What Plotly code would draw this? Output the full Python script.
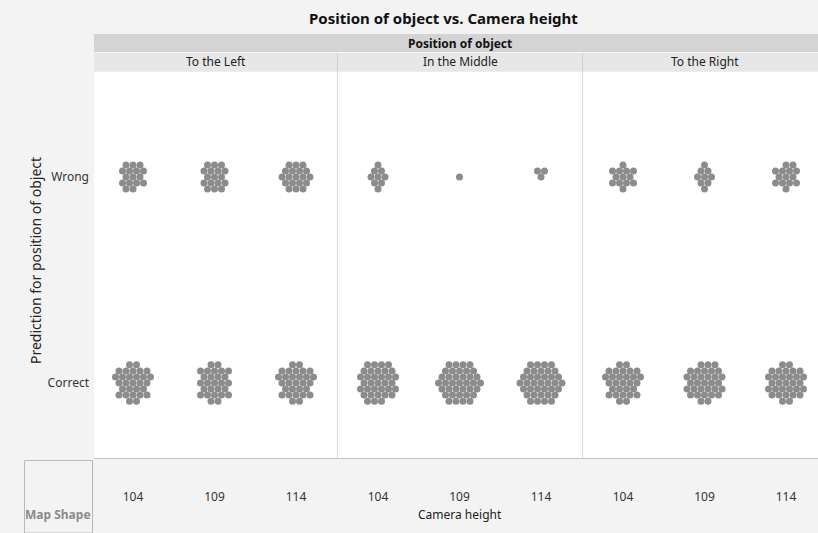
import math
import plotly.graph_objects as go

# ---- data: counts of observations per cell ----
positions = ["To the Left", "In the Middle", "To the Right"]
camera_heights = ["104", "109", "114"]
predictions = ["Correct", "Wrong"]
wrong_counts = [[16, 17, 19], [9, 1, 3], [13, 9, 14]]
correct_counts = [[29, 27, 29], [34, 37, 37], [29, 32, 31]]

W, H = 818, 533
FONT = "Noto Sans"
DOT = "#8c8c8c"

# pixel geometry of the facet grid
panel_edges = [(94, 337.5), (337.5, 582.5), (582.5, 818)]
first_center = 133.0
panel_step = 245.0
cat_step = 81.5            # px between camera-height categories
row_top, row_bottom = 72, 458
y_wrong_px, y_correct_px = 177, 383
y_unit = y_correct_px - y_wrong_px   # px per y unit
spacing = 7.0              # px between packed points


def px(x):
    return x / W


def py(y):
    return 1 - y / H


def hex_pack(n):
    """Offsets (in px) of n points packed on a hexagonal lattice around 0."""
    if n <= 0:
        return []
    pts = []
    r = int(math.sqrt(n)) + 3
    for j in range(-r, r + 1):
        for i in range(-r, r + 1):
            x = (i + 0.5 * (j % 2)) * spacing
            y = j * spacing * math.sqrt(3) / 2
            pts.append((x, y))
    pts.sort(key=lambda p: (round(p[0] ** 2 + (p[1] * 0.97) ** 2, 3),
                            math.atan2(-p[1], p[0]) % (2 * math.pi)))
    return pts[:n]


fig = go.Figure()
layout_axes = {}
for p, pos in enumerate(positions):
    c0 = first_center + panel_step * p
    L, R = panel_edges[p]
    xs, ys = [], []
    for row_val, counts in ((1, wrong_counts), (0, correct_counts)):
        for i, n in enumerate(counts[p]):
            for dx, dy in hex_pack(n):
                xs.append(i + dx / cat_step)
                ys.append(row_val - dy / y_unit)
    name = "x" if p == 0 else f"x{p + 1}"
    fig.add_trace(go.Scatter(
        x=xs, y=ys, mode="markers", xaxis=name, yaxis="y",
        marker=dict(size=7, color=DOT, line=dict(width=0)),
        showlegend=False, hoverinfo="skip"))
    key = "xaxis" if p == 0 else f"xaxis{p + 1}"
    layout_axes[key] = dict(
        domain=[px(L), px(R)],
        range=[(L - c0) / cat_step, (R - c0) / cat_step],
        tickvals=[0, 1, 2], ticktext=camera_heights,
        showgrid=False, zeroline=False, showline=False, ticks="",
        ticklabelstandoff=30,
        tickfont=dict(family=FONT, size=12, color="#333333"),
        anchor="y", fixedrange=True)

y_top = 1 + (y_wrong_px - row_top) / y_unit
y_bot = -(row_bottom - y_correct_px) / y_unit
layout_axes["yaxis"] = dict(
    domain=[py(row_bottom), py(row_top)],
    range=[y_bot, y_top],
    tickvals=[0, 1], ticktext=predictions,
    showgrid=False, zeroline=False, showline=False, ticks="",
    ticklabelstandoff=4,
    tickfont=dict(family=FONT, size=12, color="#333333"),
    anchor="x", fixedrange=True)

shapes = [
    # outer group header and facet header bands
    dict(type="rect", xref="paper", yref="paper", x0=px(94), x1=px(818),
         y0=py(52), y1=py(34), fillcolor="#d4d4d4", line=dict(width=0), layer="below"),
    dict(type="rect", xref="paper", yref="paper", x0=px(94), x1=px(818),
         y0=py(71.5), y1=py(53), fillcolor="#e7e7e7", line=dict(width=0), layer="below"),
    # bottom frame line
    dict(type="line", xref="paper", yref="paper", x0=px(94), x1=px(818),
         y0=py(458.5), y1=py(458.5), line=dict(color="#c4c4c4", width=1)),
    # "Map Shape" box
    dict(type="rect", xref="paper", yref="paper", x0=px(24.5), x1=px(92.5),
         y0=py(533), y1=py(460.5), line=dict(color="#b8b8b8", width=1),
         fillcolor="rgba(0,0,0,0)"),
]
for xs_ in (337.5, 582.5):
    shapes.append(dict(type="line", xref="paper", yref="paper", x0=px(xs_), x1=px(xs_),
                       y0=py(row_bottom), y1=py(row_top), line=dict(color="#dcdcdc", width=1)))
    shapes.append(dict(type="line", xref="paper", yref="paper", x0=px(xs_), x1=px(xs_),
                       y0=py(71.5), y1=py(53), line=dict(color="#cfcfcf", width=1)))

annotations = [
    dict(text="<b>Position of object vs. Camera height</b>", x=px(444), y=py(18),
         font=dict(family=FONT, size=15, color="#111111")),
    dict(text="<b>Position of object</b>", x=px(460), y=py(43),
         font=dict(family=FONT, size=12, color="#111111")),
    dict(text="Camera height", x=px(460), y=py(514),
         font=dict(family=FONT, size=12, color="#222222")),
    dict(text="Prediction for position of object", x=px(35), y=py(261), textangle=-90,
         font=dict(family=FONT, size=14, color="#222222")),
    dict(text="<b>Map Shape</b>", x=px(58), y=py(514),
         font=dict(family=FONT, size=12, color="#8a8a8a")),
]
for p, pos in enumerate(positions):
    L, R = panel_edges[p]
    cx = (L + R) / 2 if p < 2 else first_center + panel_step * p + cat_step
    annotations.append(dict(text=pos, x=px(cx), y=py(62),
                            font=dict(family=FONT, size=12, color="#222222")))
for a in annotations:
    a.update(xref="paper", yref="paper", showarrow=False, xanchor="center", yanchor="middle")

fig.update_layout(
    width=W, height=H,
    margin=dict(l=0, r=0, t=0, b=0),
    paper_bgcolor="#f3f3f3", plot_bgcolor="#ffffff",
    shapes=shapes, annotations=annotations,
    **layout_axes)

fig.write_html("out.html")
